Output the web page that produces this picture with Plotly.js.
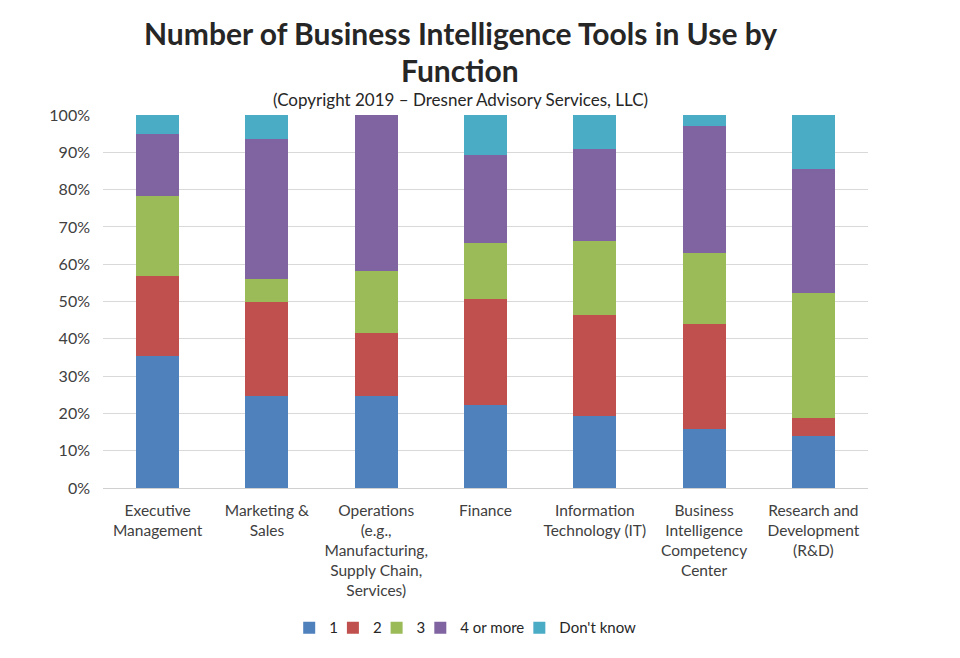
<!DOCTYPE html>
<html>
<head>
<meta charset="utf-8">
<script src="https://cdn.plot.ly/plotly-3.0.1.min.js"></script>
<style>html,body{margin:0;padding:0;background:#fff;}#chart{width:960px;height:658px;}</style>
</head>
<body>
<div id="chart"></div>
<script>
const categories = [
  "Executive<br>Management",
  "Marketing &<br>Sales",
  "Operations<br>(e.g.,<br>Manufacturing,<br>Supply Chain,<br>Services)",
  "Finance",
  "Information<br>Technology (IT)",
  "Business<br>Intelligence<br>Competency<br>Center",
  "Research and<br>Development<br>(R&D)"
];
const seriesNames = ["1", "2", "3", "4 or more", "Don't know"];
const one      = [35.4, 24.8, 24.8, 22.2, 19.4, 15.9, 14.0];
const two      = [21.5, 25.0, 16.7, 28.6, 27.0, 28.0, 4.8];
const three    = [21.4, 6.3, 16.7, 15.0, 19.7, 19.2, 33.6];
const fourPlus = [16.5, 37.5, 41.8, 23.5, 24.7, 34.0, 33.1];
const dontKnow = [5.2, 6.4, 0.0, 10.7, 9.2, 2.9, 14.5];
const yTicks = [0, 10, 20, 30, 40, 50, 60, 70, 80, 90, 100];

const colors = ["#4f81bd", "#c0504d", "#9bbb59", "#8064a2", "#4bacc6"];
const values = [one, two, three, fourPlus, dontKnow];
const FONT = "Lato, 'Open Sans', sans-serif";

const data = values.map((v, i) => ({
  type: "bar",
  name: seriesNames[i],
  x: categories,
  y: v,
  marker: {color: colors[i], line: {width: 0}},
  hoverinfo: "name+y"
}));

const layout = {
  width: 960, height: 658,
  barmode: "stack",
  bargap: 0.607,
  margin: {l: 103, r: 92, t: 115, b: 170},
  paper_bgcolor: "#fff", plot_bgcolor: "#fff",
  font: {family: FONT, color: "#404040", size: 15},
  showlegend: true,
  legend: {
    orientation: "h", x: 0.48, xanchor: "center", y: -0.375, yanchor: "middle",
    font: {size: 15, color: "#262626"}, traceorder: "normal",
    itemwidth: 30, indentation: -10, tracegroupgap: 0
  },
  xaxis: {
    type: "category",
    tickfont: {size: 15.5, color: "#404040"},
    showline: true, linecolor: "#d0d0d0", linewidth: 1,
    ticks: "", showgrid: false, ticklabelstandoff: 8
  },
  yaxis: {
    range: [0, 100],
    tickvals: yTicks,
    ticktext: yTicks.map(t => t + "%"),
    showgrid: true, gridcolor: "#d9d9d9", gridwidth: 1,
    zeroline: false, showline: false, ticks: "",
    tickfont: {size: 16, color: "#404040"},
    ticklabelstandoff: 12,
    fixedrange: true
  },
  annotations: [
    {text: "<b>Number of Business Intelligence Tools in Use by</b>", xref: "paper", yref: "paper",
     x: 0.467, y: 1.22, xanchor: "center", yanchor: "middle", showarrow: false,
     font: {size: 30, color: "#262626", family: FONT}},
    {text: "<b>Function</b>", xref: "paper", yref: "paper",
     x: 0.467, y: 1.12, xanchor: "center", yanchor: "middle", showarrow: false,
     font: {size: 30, color: "#262626", family: FONT}},
    {text: "(Copyright 2019 \u2013 Dresner Advisory Services, LLC)", xref: "paper", yref: "paper",
     x: 0.467, y: 1.042, xanchor: "center", yanchor: "middle", showarrow: false,
     font: {size: 17, color: "#262626", family: FONT}}
  ]
};

Plotly.newPlot("chart", data, layout, {displayModeBar: false, staticPlot: true});
</script>
</body>
</html>
